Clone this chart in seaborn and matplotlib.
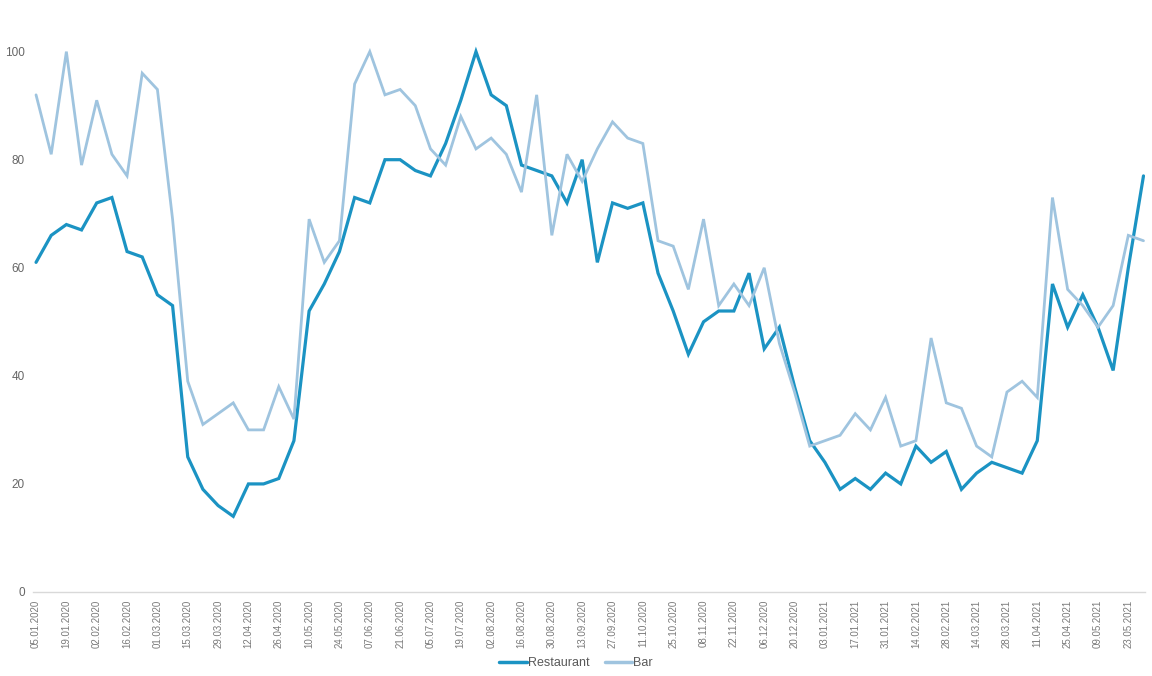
import matplotlib
matplotlib.use("Agg")
import matplotlib.pyplot as plt
import seaborn as sns
import pandas as pd
import numpy as np
from matplotlib.lines import Line2D

# Weekly dates (Sundays) 05.01.2020 .. 30.05.2021
weeks = pd.date_range("2020-01-05", periods=74, freq="7D")

restaurant = [61, 66, 68, 67, 72, 73, 63, 62, 55, 53,
              25, 19, 16, 14, 20, 20, 21, 28, 52, 57,
              63, 73, 72, 80, 80, 78, 77, 83, 91, 100,
              92, 90, 79, 78, 77, 72, 80, 61, 72, 71,
              72, 59, 52, 44, 50, 52, 52, 59, 45, 49,
              38, 28, 24, 19, 21, 19, 22, 20, 27, 24,
              26, 19, 22, 24, 23, 22, 28, 57, 49, 55,
              49, 41, 60, 77]

bar = [92, 81, 100, 79, 91, 81, 77, 96, 93, 69,
       39, 31, 33, 35, 30, 30, 38, 32, 69, 61,
       65, 94, 100, 92, 93, 90, 82, 79, 88, 82,
       84, 81, 74, 92, 66, 81, 76, 82, 87, 84,
       83, 65, 64, 56, 69, 53, 57, 53, 60, 46,
       37, 27, 28, 29, 33, 30, 36, 27, 28, 47,
       35, 34, 27, 25, 37, 39, 36, 73, 56, 53,
       49, 53, 66, 65]

series_names = ["Restaurant", "Bar"]
colors = ["#1b93c3", "#9fc4df"]
y_ticks = [0, 20, 40, 60, 80, 100]

df = pd.DataFrame({"week": list(weeks) * 2,
                   "value": restaurant + bar,
                   "series": ["Restaurant"] * len(weeks) + ["Bar"] * len(weeks)})

sns.set_theme(style="white")
plt.rcParams["font.family"] = ["Liberation Sans", "DejaVu Sans"]

fig = plt.figure(figsize=(11.52, 6.76), dpi=100)
ax = fig.add_axes([33 / 1152, 1 - 592 / 676, (1145 - 33) / 1152, (592 - 30) / 676])

sns.lineplot(data=df, x="week", y="value", hue="series", hue_order=series_names,
             palette=dict(zip(series_names, colors)), ax=ax, linewidth=2.0,
             legend=False)
for line, lw in zip(ax.lines, [2.3, 2.0]):
    line.set_linewidth(lw)
    line.set_solid_joinstyle("miter")

one_week = pd.Timedelta(days=7)
ax.set_xlim(weeks[0] - 0.2 * one_week, weeks[-1] + 0.1 * one_week)
ax.set_ylim(0, 104)
ax.set_yticks(y_ticks)
ax.set_yticklabels([str(t) for t in y_ticks], color="#666666", fontsize=8.5)
ax.tick_params(axis="y", length=0, pad=6)

tick_weeks = weeks[::2]
ax.set_xticks(tick_weeks)
ax.set_xticklabels([d.strftime("%d.%m.%Y") for d in tick_weeks], rotation=90,
                   color="#7a7a7a", fontsize=7)
ax.tick_params(axis="x", length=2.5, color="#d9d9d9", pad=3)

for s in ["top", "right", "left"]:
    ax.spines[s].set_visible(False)
ax.spines["bottom"].set_color("#d9d9d9")
ax.spines["bottom"].set_linewidth(1)
ax.set_xlabel("")
ax.set_ylabel("")
ax.grid(False)

handles = [Line2D([], [], color=c, linewidth=2.5) for c in colors]
fig.legend(handles, series_names, loc="center", bbox_to_anchor=(0.5, 1 - 663 / 676),
           ncol=2, frameon=False, fontsize=9, handlelength=2.2, handletextpad=0.1,
           columnspacing=1.2, labelcolor="#595959")

fig.savefig("out.png", dpi=100)
